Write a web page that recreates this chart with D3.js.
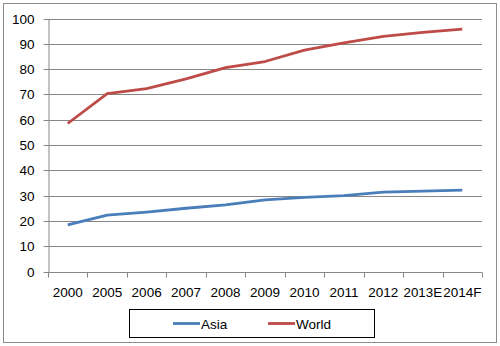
<!DOCTYPE html>
<html>
<head>
<meta charset="utf-8">
<script src="https://cdn.jsdelivr.net/npm/d3@7"></script>
<style>
  html, body { margin: 0; padding: 0; background: #fff; }
  svg { display: block; font-family: "Liberation Sans", Arial, sans-serif; }
</style>
</head>
<body>
<svg id="chart" width="500" height="346"></svg>
<script>
// Categories and series
const years = ["2000", "2005", "2006", "2007", "2008", "2009", "2010", "2011", "2012", "2013E", "2014F"];
const asia  = [18.4, 22.3, 23.5, 25.0, 26.3, 28.3, 29.3, 30.0, 31.4, 31.8, 32.2];
const world = [58.5, 70.3, 72.3, 76.1, 80.6, 83.0, 87.5, 90.4, 92.9, 94.5, 95.8];
const yTicks = [0, 10, 20, 30, 40, 50, 60, 70, 80, 90, 100];
const seriesNames = ["Asia", "World"];
const seriesColors = ["#4a7ebb", "#be4b48"];

const svg = d3.select("#chart");
const W = 500, H = 346;
const plot = { left: 48, right: 482, top: 18.5, bottom: 271.5 };

// outer frame
svg.append("rect")
  .attr("x", 3.5).attr("y", 3.5)
  .attr("width", W - 7).attr("height", H - 7)
  .attr("fill", "#fff").attr("stroke", "#8c8c8c").attr("stroke-width", 1);

const x = d3.scaleBand().domain(years).range([plot.left, plot.right]).padding(0);
const y = d3.scaleLinear().domain([0, 100]).range([plot.bottom, plot.top]);

// horizontal gridlines
svg.append("g").selectAll("line")
  .data(yTicks.filter(t => t > 0))
  .join("line")
  .attr("x1", plot.left).attr("x2", plot.right)
  .attr("y1", d => Math.round(y(d)) + 0.5).attr("y2", d => Math.round(y(d)) + 0.5)
  .attr("stroke", "#868686").attr("stroke-width", 1);

// y axis
const yAxis = svg.append("g")
  .attr("transform", `translate(${plot.left + 0.5},0)`)
  .call(d3.axisLeft(y).tickValues(yTicks).tickSize(5).tickPadding(9).tickSizeOuter(0));
yAxis.select(".domain").attr("stroke", "#868686");
yAxis.selectAll(".tick line").attr("stroke", "#868686");
yAxis.selectAll(".tick").attr("transform", d => `translate(0,${Math.round(y(d)) + 0.5})`);
yAxis.selectAll("text")
  .attr("font-size", 13.5).attr("fill", "#000")
  .attr("font-family", "Liberation Sans, Arial, sans-serif");

// x axis: ticks on category boundaries, labels centred in each band
const xg = svg.append("g").attr("transform", `translate(0,${Math.round(plot.bottom) + 0.5})`);
xg.append("line")
  .attr("x1", plot.left).attr("x2", plot.right)
  .attr("stroke", "#868686");
const bounds = years.map(d => x(d)).concat([plot.right]);
xg.selectAll("line.tk").data(bounds).join("line")
  .attr("class", "tk")
  .attr("x1", d => Math.round(d) + 0.5).attr("x2", d => Math.round(d) + 0.5)
  .attr("y1", 0).attr("y2", 5)
  .attr("stroke", "#868686");
xg.selectAll("text").data(years).join("text")
  .attr("x", d => x(d) + x.bandwidth() / 2)
  .attr("y", 24)
  .attr("text-anchor", "middle")
  .attr("font-size", 13.5)
  .attr("fill", "#000")
  .text(d => d)
  .each(function (d) {
    if (this.getComputedTextLength() > x.bandwidth() - 1) {
      d3.select(this).attr("textLength", x.bandwidth() - 1).attr("lengthAdjust", "spacingAndGlyphs");
    }
  });

// series lines
const line = d3.line()
  .x((d, i) => x(years[i]) + x.bandwidth() / 2)
  .y(d => y(d));

[asia, world].forEach((vals, k) => {
  svg.append("path")
    .datum(vals)
    .attr("d", line)
    .attr("fill", "none")
    .attr("stroke", seriesColors[k])
    .attr("stroke-width", 2.8)
    .attr("stroke-linejoin", "round")
    .attr("stroke-linecap", "butt");
});

// legend
const lg = svg.append("g");
lg.append("rect")
  .attr("x", 129.5).attr("y", 309.5)
  .attr("width", 245).attr("height", 28)
  .attr("fill", "#fff").attr("stroke", "#000").attr("stroke-width", 1);
const legendX = [173, 268];
seriesNames.forEach((name, k) => {
  lg.append("line")
    .attr("x1", legendX[k]).attr("x2", legendX[k] + 27)
    .attr("y1", 323.5).attr("y2", 323.5)
    .attr("stroke", seriesColors[k]).attr("stroke-width", 2.8);
  lg.append("text")
    .attr("x", legendX[k] + 28).attr("y", 328.5)
    .attr("font-size", 13.5).attr("fill", "#000")
    .text(name);
});
</script>
</body>
</html>
